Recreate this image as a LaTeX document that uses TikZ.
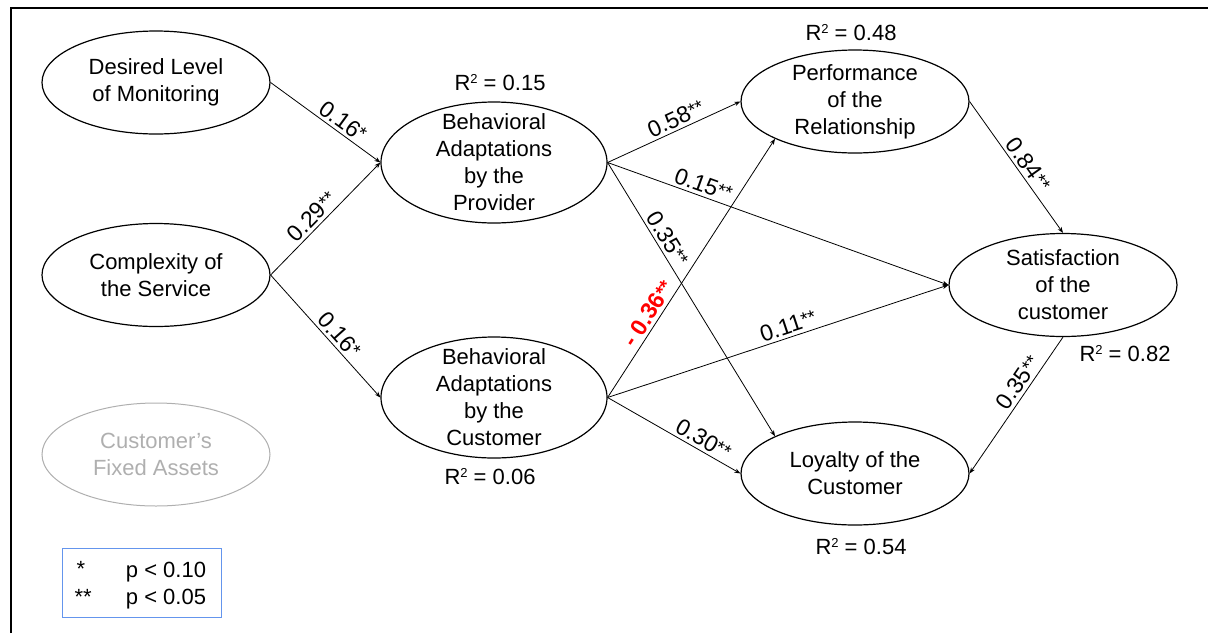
\documentclass[tikz,border=0pt]{standalone}
\usepackage{fontspec}
\setmainfont{Liberation Sans}
\usetikzlibrary{shapes.geometric,arrows.meta}
\definecolor{legendblue}{RGB}{100,149,237}
\definecolor{fadegray}{RGB}{175,175,175}
\definecolor{sigred}{RGB}{255,0,0}
\newcommand{\stars}[1]{\raisebox{2pt}{\fontsize{19}{19}\selectfont #1}}
\newcommand{\rsqr}{R\raisebox{7pt}{\fontsize{13}{13}\selectfont 2}}
\begin{document}
\begin{tikzpicture}[x=1pt,y=-1pt,
  every node/.style={font=\fontsize{22}{27}\selectfont},
  latent/.style={ellipse,draw,line width=1.2pt,minimum width=228pt,minimum height=103pt,inner sep=0pt},
  latentbig/.style={latent,minimum width=226pt,minimum height=121pt},
  arrowline/.style={draw,line width=0.8pt,-{Stealth[length=6pt,width=4.5pt]}},
  coef/.style={sloped,above,inner sep=3pt,font=\fontsize{23}{23}\selectfont},
  rsq/.style={font=\fontsize{22}{22}\selectfont}]
\useasboundingbox (0,0) rectangle (1208,633);
\draw[line width=2pt] (11,633) -- (11,8) -- (1208,8);

% nodes
\node[latent,label={[align=center]center:{Desired Level\\of Monitoring}}] (dlm) at (156,82.5) {};
\node[latent,label={[align=center]center:{Complexity of\\the Service}}] (cs) at (156,275) {};
\node[latent,draw=fadegray,line width=1pt,label={[align=center,text=fadegray]center:{Customer's\\Fixed Assets}}] (cfa) at (156,454.5) {};
\node[latentbig,label={[align=center]center:{Behavioral\\Adaptations\\by the\\Provider}}] (bap) at (494,162.5) {};
\node[latentbig,label={[align=center]center:{Behavioral\\Adaptations\\by the\\Customer}}] (bac) at (494,397.5) {};
\node[latent,label={[align=center]center:{Performance\\of the\\Relationship}}] (perf) at (855,101.5) {};
\node[latent,label={[align=center]center:{Satisfaction\\of the\\customer}}] (sat) at (1063,285) {};
\node[latent,label={[align=center]center:{Loyalty of the\\Customer}}] (loy) at (855,473.5) {};

% R squared
\node[rsq] (r1) at (500,83) {\rsqr{} = 0.15};
\node[rsq] (r2) at (851,33) {\rsqr{} = 0.48};
\node[rsq] (r3) at (490,477) {\rsqr{} = 0.06};
\node[rsq] (r4) at (1125,354) {\rsqr{} = 0.82};
\node[rsq] (r5) at (861,547) {\rsqr{} = 0.54};

% paths
\draw[arrowline] (dlm.east) -- node[coef,pos=0.6] {0.16\stars{*}} (bap.west);
\draw[arrowline] (cs.east) -- node[coef,pos=0.45] {0.29\stars{**}} (bap.west);
\draw[arrowline] (cs.east) -- node[coef,pos=0.55] {0.16\stars{*}} (bac.west);
\draw[arrowline] (bap.east) -- node[coef,pos=0.55] {0.58\stars{**}} (perf.west);
\draw[arrowline] (bap.east) -- node[coef,pos=0.27] {0.15\stars{**}} (sat.west);
\draw[arrowline] (bap.east) -- node[coef,pos=0.3] {0.35\stars{**}} (loy.155);
\draw[arrowline] (bac.east) -- node[coef,pos=0.3,text=sigred,font=\fontsize{23}{23}\selectfont\bfseries] {- 0.36\stars{**}} (perf.205);
\draw[arrowline] (bac.east) -- node[coef,pos=0.54] {0.11\stars{**}} (sat.west);
\draw[arrowline] (bac.east) -- node[coef,pos=0.68] {0.30\stars{**}} (loy.west);
\draw[arrowline] (perf.east) -- node[coef,pos=0.53] {0.84\stars{**}} (sat.north);
\draw[arrowline] (sat.south) -- node[coef,pos=0.38] {0.35\stars{**}} (loy.east);

% legend
\node[draw=legendblue,line width=1pt,minimum width=159pt,minimum height=69pt,inner sep=0pt] (legend) at (141.5,582.5) {};
\node[anchor=west] (s1) at (73,569) {*};
\node (p1) at (166,572) {p < 0.10};
\node[anchor=west] (s2) at (71,597) {**};
\node (p2) at (166,599) {p < 0.05};
\end{tikzpicture}
\end{document}
